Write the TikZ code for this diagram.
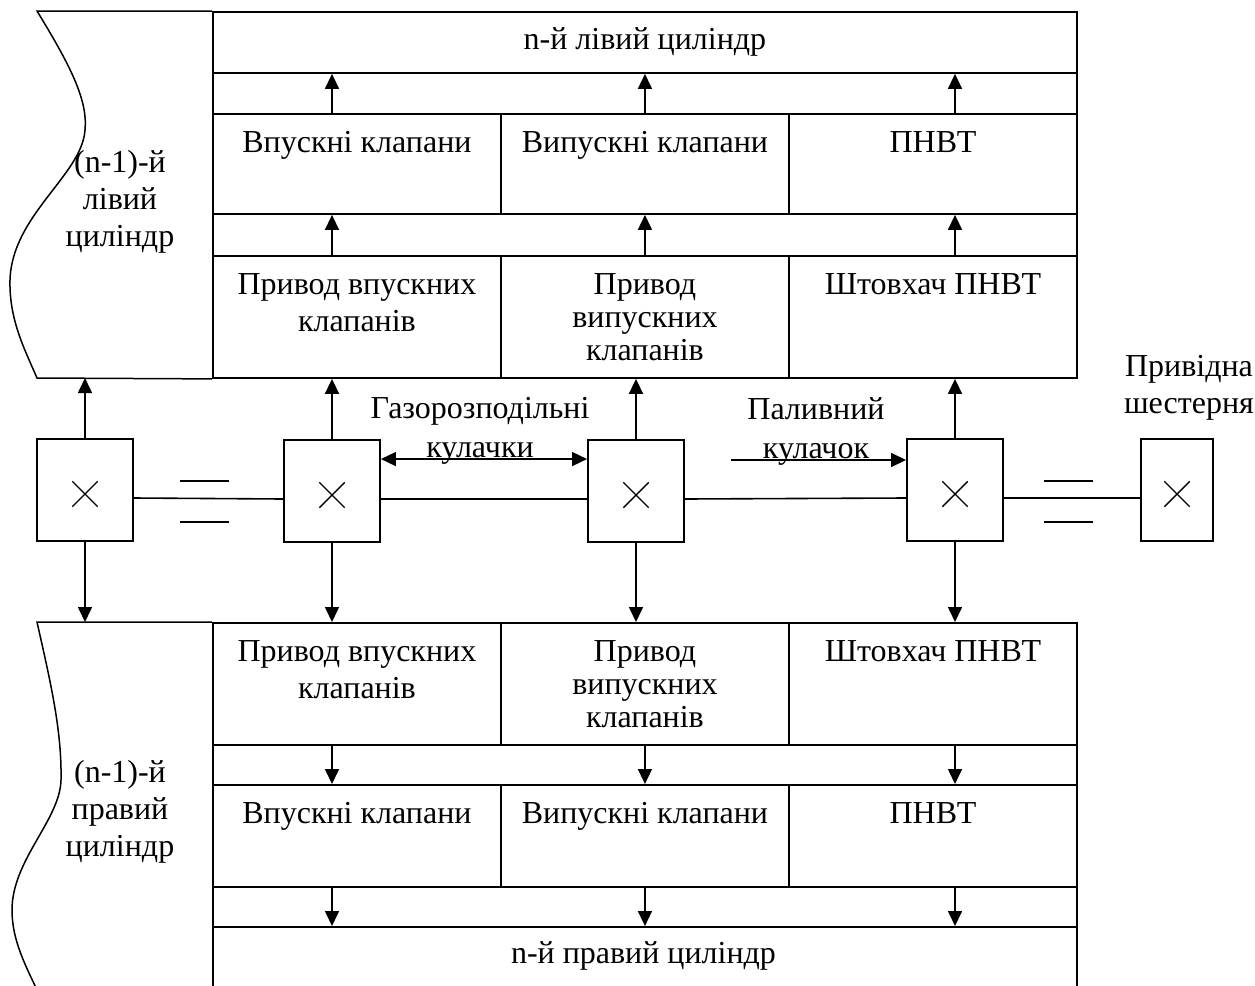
\documentclass[tikz,border=0pt]{standalone}
\usepackage{fontspec}
\setmainfont{Liberation Serif}
\usetikzlibrary{arrows.meta, positioning, calc, shapes.misc}
\newcommand{\cellfont}{\fontsize{32}{32}\selectfont}
\tikzset{
    cell/.style={draw, line width=1.9pt, anchor=north west, minimum width=288pt, minimum height=#1, inner sep=0pt, font=\cellfont},
    block/.style={draw, line width=1.9pt, anchor=north west, minimum width=864pt, minimum height=#1, inner sep=0pt},
    celltext/.style={anchor=north, align=center, inner sep=3pt, font=\fontsize{32}{#1}\selectfont},
    celltext/.default=32pt,
    freetext/.style={anchor=north, align=center, inner sep=3pt, font=\fontsize{32}{#1}\selectfont},
    bearing/.style={draw, line width=1.9pt, minimum width=96pt, minimum height=102pt, inner sep=0pt},
    xmark/.style={draw, cross out, line width=1.4pt, minimum size=24pt, inner sep=0pt},
    arrow/.style={-{Triangle[length=15pt, width=14pt]}, line width=1.6pt},
    dblarrow/.style={{Triangle[length=15pt, width=14pt]}-{Triangle[length=15pt, width=14pt]}, line width=1.6pt},
    shaft/.style={line width=1.6pt},
    wave/.style={line width=1.5pt},
}
\begin{document}
\begin{tikzpicture}[x=1pt, y=-1pt]
    \useasboundingbox (0,0) rectangle (1255,985);

    % Upper (left) bank
    \node[block=366pt] (ublock) at (212,11) {};
    \node[cell=61pt, minimum width=864pt] (topL) at (212,11) {n-й лівий циліндр};
    \node[cell=100pt] (inv1) at (212,113) {};
    \node[cell=100pt] (exv1) at (500,113) {};
    \node[cell=100pt] (fp1) at (788,113) {};
    \node[cell=122pt] (idr1) at (212,255) {};
    \node[cell=122pt] (edr1) at (500,255) {};
    \node[cell=122pt] (pus1) at (788,255) {};

    \node[celltext] (inv1t) at ([yshift=-15pt]inv1.north) {Впускні клапани};
    \node[celltext] (exv1t) at ([yshift=-15pt]exv1.north) {Випускні клапани};
    \node[celltext] (fp1t) at ([yshift=-15pt]fp1.north) {ПНВТ};
    \node[celltext=37pt] (idr1t) at ([yshift=-15pt]idr1.north) {Привод впускних\\клапанів};
    \node[celltext=33pt] (edr1t) at ([yshift=-15pt]edr1.north) {Привод\\випускних\\клапанів};
    \node[celltext] (pus1t) at ([yshift=-15pt]pus1.north) {Штовхач ПНВТ};

    \draw[wave] (ublock.north west) -- (37,11) .. controls (70,65) and (88,100) .. (85,130)
        .. controls (82,175) and (12,215) .. (10,280) .. controls (9,320) and (25,350) .. (37,378)
        -- (ublock.south west);
    \node[freetext=37pt] (lcylt) at (120,147) {(n-1)-й\\лівий\\циліндр};

    % Lower (right) bank
    \node[block=390pt] (lblock) at (212,622) {};
    \node[cell=122pt] (idr2) at (212,622) {};
    \node[cell=122pt] (edr2) at (500,622) {};
    \node[cell=122pt] (pus2) at (788,622) {};
    \node[cell=102pt] (inv2) at (212,784) {};
    \node[cell=102pt] (exv2) at (500,784) {};
    \node[cell=102pt] (fp2) at (788,784) {};
    \node[cell=90pt, minimum width=864pt] (botR) at (212,926) {};

    \node[celltext=37pt] (idr2t) at ([yshift=-15pt]idr2.north) {Привод впускних\\клапанів};
    \node[celltext=33pt] (edr2t) at ([yshift=-15pt]edr2.north) {Привод\\випускних\\клапанів};
    \node[celltext] (pus2t) at ([yshift=-15pt]pus2.north) {Штовхач ПНВТ};
    \node[celltext] (inv2t) at ([yshift=-15pt]inv2.north) {Впускні клапани};
    \node[celltext] (exv2t) at ([yshift=-15pt]exv2.north) {Випускні клапани};
    \node[celltext] (fp2t) at ([yshift=-15pt]fp2.north) {ПНВТ};
    \node[font=\cellfont] (botRt) at (643.5,956) {n-й правий циліндр};

    \draw[wave] (lblock.north west) -- (37,622) .. controls (50,680) and (62,730) .. (61,780)
        .. controls (60,820) and (12,860) .. (12,910) .. controls (12,940) and (25,965) .. (41,998);
    \node[freetext=37pt] (rcylt) at (120,757) {(n-1)-й\\правий\\циліндр};

    % Camshaft with bearings
    \node[bearing] (b1) at (85,490) {};
    \node[bearing] (b2) at (332,491) {};
    \node[bearing] (b3) at (636,491) {};
    \node[bearing] (b4) at (955,490) {};
    \node[bearing, minimum width=72pt] (b5) at (1177,490) {};
    \foreach \b in {1,...,5}
        \node[xmark] (x\b) at ([yshift=-4pt]b\b.center) {};
    \foreach \a/\b in {1/2, 2/3, 3/4, 4/5}
        \draw[shaft] ([yshift=-8pt]b\a.east) -- ([yshift=-8pt]b\b.west);
    \foreach \bx in {180, 1044} {
        \draw[shaft] (\bx,481) -- +(49,0);
        \draw[shaft] (\bx,522) -- +(49,0);
    }

    \node[freetext=39pt] (camt) at (480,394) {Газорозподільні\\кулачки};
    \node[freetext=39pt] (fuelt) at (816,394) {Паливний\\кулачок};
    \node[freetext=37pt] (geart) at (1189,352) {Привідна\\шестерня};

    % Connections
    \coordinate (lcyl) at (85,378);
    \coordinate (rcyl) at (85,622);
    \coordinate (fstart) at (731,460);
    \draw[arrow] (b1.north) -- (lcyl);
    \draw[arrow] (b1.south) -- (rcyl);
    \draw[arrow] (b2.north) -- (b2.north |- idr1.south);
    \draw[arrow] (b2.south) -- (b2.south |- idr2.north);
    \draw[arrow] (b3.north) -- (b3.north |- edr1.south);
    \draw[arrow] (b3.south) -- (b3.south |- edr2.north);
    \draw[arrow] (b4.north) -- (b4.north |- pus1.south);
    \draw[arrow] (b4.south) -- (b4.south |- pus2.north);
    \draw[dblarrow] ([yshift=-20pt]b2.north east) -- ([yshift=-20pt]b3.north west);
    \draw[arrow] (fstart) -- (fstart -| b4.west);

    \draw[arrow] (b2 |- idr1.north) -- (b2 |- inv1.south);
    \draw[arrow] (edr1.north) -- (exv1.south);
    \draw[arrow] (b4 |- pus1.north) -- (b4 |- fp1.south);
    \draw[arrow] (b2 |- inv1.north) -- (b2 |- topL.south);
    \draw[arrow] (exv1.north) -- (exv1.north |- topL.south);
    \draw[arrow] (b4 |- fp1.north) -- (b4 |- topL.south);

    \draw[arrow] (b2 |- idr2.south) -- (b2 |- inv2.north);
    \draw[arrow] (edr2.south) -- (exv2.north);
    \draw[arrow] (b4 |- pus2.south) -- (b4 |- fp2.north);
    \draw[arrow] (b2 |- inv2.south) -- (b2 |- botR.north);
    \draw[arrow] (exv2.south) -- (exv2.south |- botR.north);
    \draw[arrow] (b4 |- fp2.south) -- (b4 |- botR.north);
\end{tikzpicture}
\end{document}
